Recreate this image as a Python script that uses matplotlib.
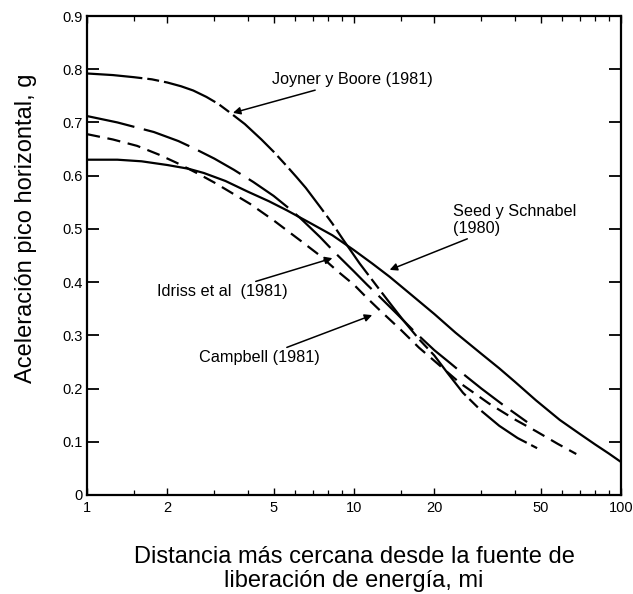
import matplotlib
matplotlib.use("Agg")
import matplotlib.pyplot as plt
from matplotlib.ticker import FixedLocator, LogLocator, NullFormatter

plt.rcParams['font.family'] = ['Liberation Sans', 'DejaVu Sans']
plt.rcParams['lines.scale_dashes'] = False

# curves (distance in mi, PGA in g)
joyner_x = [1, 1.25, 1.5, 1.75, 2, 2.25, 2.5, 2.8, 3.1, 3.4, 3.9, 4.5, 5, 5.6, 6.1, 6.6,
            7.5, 8.3, 9.1, 10.5, 12.5, 13.8, 15.2, 17.5, 20, 22.5, 25.6, 30, 35, 41, 48.5]
joyner_y = [0.792, 0.789, 0.785, 0.781, 0.775, 0.768, 0.76, 0.748, 0.735, 0.72, 0.697, 0.668,
            0.645, 0.618, 0.597, 0.577, 0.54, 0.51, 0.48, 0.435, 0.385, 0.357, 0.33, 0.293,
            0.262, 0.228, 0.192, 0.158, 0.13, 0.107, 0.088]

idriss_x = [1, 1.3, 1.78, 2.2, 2.5, 3, 3.55, 4.2, 5, 5.6, 6.3, 7.45, 8.5, 10, 11.2, 12.5,
            14.5, 17, 20, 22.9, 26, 30, 36, 44.5]
idriss_y = [0.712, 0.70, 0.682, 0.665, 0.652, 0.632, 0.611, 0.588, 0.562, 0.542, 0.52, 0.485,
            0.455, 0.42, 0.395, 0.372, 0.34, 0.305, 0.272, 0.248, 0.225, 0.2, 0.17, 0.137]

campbell_x = [1, 1.25, 1.54, 1.85, 2.17, 2.6, 3, 3.5, 4.08, 5, 6.3, 7.45, 8.7, 10, 11.2,
              12.5, 15, 17.5, 20, 25, 32, 40, 48, 58, 68]
campbell_y = [0.678, 0.668, 0.656, 0.64, 0.624, 0.604, 0.587, 0.567, 0.547, 0.516, 0.478,
              0.45, 0.42, 0.395, 0.37, 0.347, 0.31, 0.277, 0.252, 0.21, 0.172, 0.142, 0.12,
              0.096, 0.077]

seed_x = [1, 1.3, 1.6, 2, 2.4, 2.74, 3.3, 4, 4.8, 5.6, 6.8, 8.3, 10, 11.7, 13.6, 16.5, 20,
          24, 29.7, 35, 40, 48, 59, 70, 80, 90, 100]
seed_y = [0.63, 0.63, 0.627, 0.62, 0.613, 0.605, 0.59, 0.57, 0.552, 0.535, 0.512, 0.488,
          0.46, 0.435, 0.41, 0.375, 0.34, 0.305, 0.267, 0.238, 0.213, 0.178, 0.141, 0.115,
          0.095, 0.078, 0.062]

x_ticks = [1, 2, 5, 10, 20, 50, 100]
x_labels = ['1', '2', '5', '10', '20', '50', '100']
y_ticks = [0, 0.1, 0.2, 0.3, 0.4, 0.5, 0.6, 0.7, 0.8, 0.9]
y_labels = ['0', '0.1', '0.2', '0.3', '0.4', '0.5', '0.6', '0.7', '0.8', '0.9']

fig = plt.figure(figsize=(6.33, 5.94), dpi=100)
ax = fig.add_axes([87/633, 99/594, 534/633, 479/594])

ax.plot(joyner_x, joyner_y, color='black', lw=1.6, ls=(0, (40, 3.6, 8.6, 3.6)))
ax.plot(idriss_x, idriss_y, color='black', lw=1.6, ls=(0, (35, 7)))
ax.plot(campbell_x, campbell_y, color='black', lw=1.6, ls=(0, (9.5, 5.5)))
ax.plot(seed_x, seed_y, color='black', lw=1.6, ls='-')

ax.set_xscale('log')
ax.set_xlim(1, 100)
ax.set_ylim(0, 0.9)

ax.xaxis.set_major_locator(FixedLocator(x_ticks))
ax.set_xticklabels(x_labels)
ax.xaxis.set_minor_locator(LogLocator(base=10, subs=[1.5, 3, 4, 6, 7, 8, 9]))
ax.xaxis.set_minor_formatter(NullFormatter())
ax.set_yticks(y_ticks)
ax.set_yticklabels(y_labels)

ax.tick_params(axis='y', which='major', direction='in', length=8.5, width=1.3,
               left=True, right=True, labelsize=10.5, pad=3)
ax.tick_params(axis='x', which='major', direction='in', length=5, width=1.0,
               bottom=True, top=True, labelsize=10.5, pad=4)
ax.tick_params(axis='x', which='minor', direction='in', length=3.5, width=0.9,
               bottom=True, top=True)
for s in ax.spines.values():
    s.set_linewidth(1.6)

ax.set_ylabel('Aceleración pico horizontal, g', fontsize=17)
ax.yaxis.set_label_coords(-0.094, 0.557)
ax.set_xlabel('Distancia más cercana desde la fuente de\nliberación de energía, mi',
              fontsize=17, linespacing=1.15)
ax.xaxis.set_label_coords(0.5, -0.106)

arrow = dict(arrowstyle='-|>', color='black', lw=1.1, mutation_scale=11,
             shrinkA=0, shrinkB=0)
ax.annotate('Joyner y Boore (1981)', xy=(3.52, 0.718), xytext=(4.93, 0.78),
            fontsize=11.7, ha='left', va='center', arrowprops=arrow)
ax.annotate('Seed y Schnabel\n(1980)', xy=(13.6, 0.423), xytext=(23.5, 0.517),
            fontsize=11.7, ha='left', va='center', arrowprops=arrow)
ax.annotate('Idriss et al  (1981)', xy=(8.3, 0.445), xytext=(5.62, 0.382),
            fontsize=11.7, ha='right', va='center', arrowprops=arrow)
ax.annotate('Campbell (1981)', xy=(11.7, 0.338), xytext=(7.46, 0.258),
            fontsize=11.7, ha='right', va='center', arrowprops=arrow)

fig.savefig('out.png', dpi=100)
